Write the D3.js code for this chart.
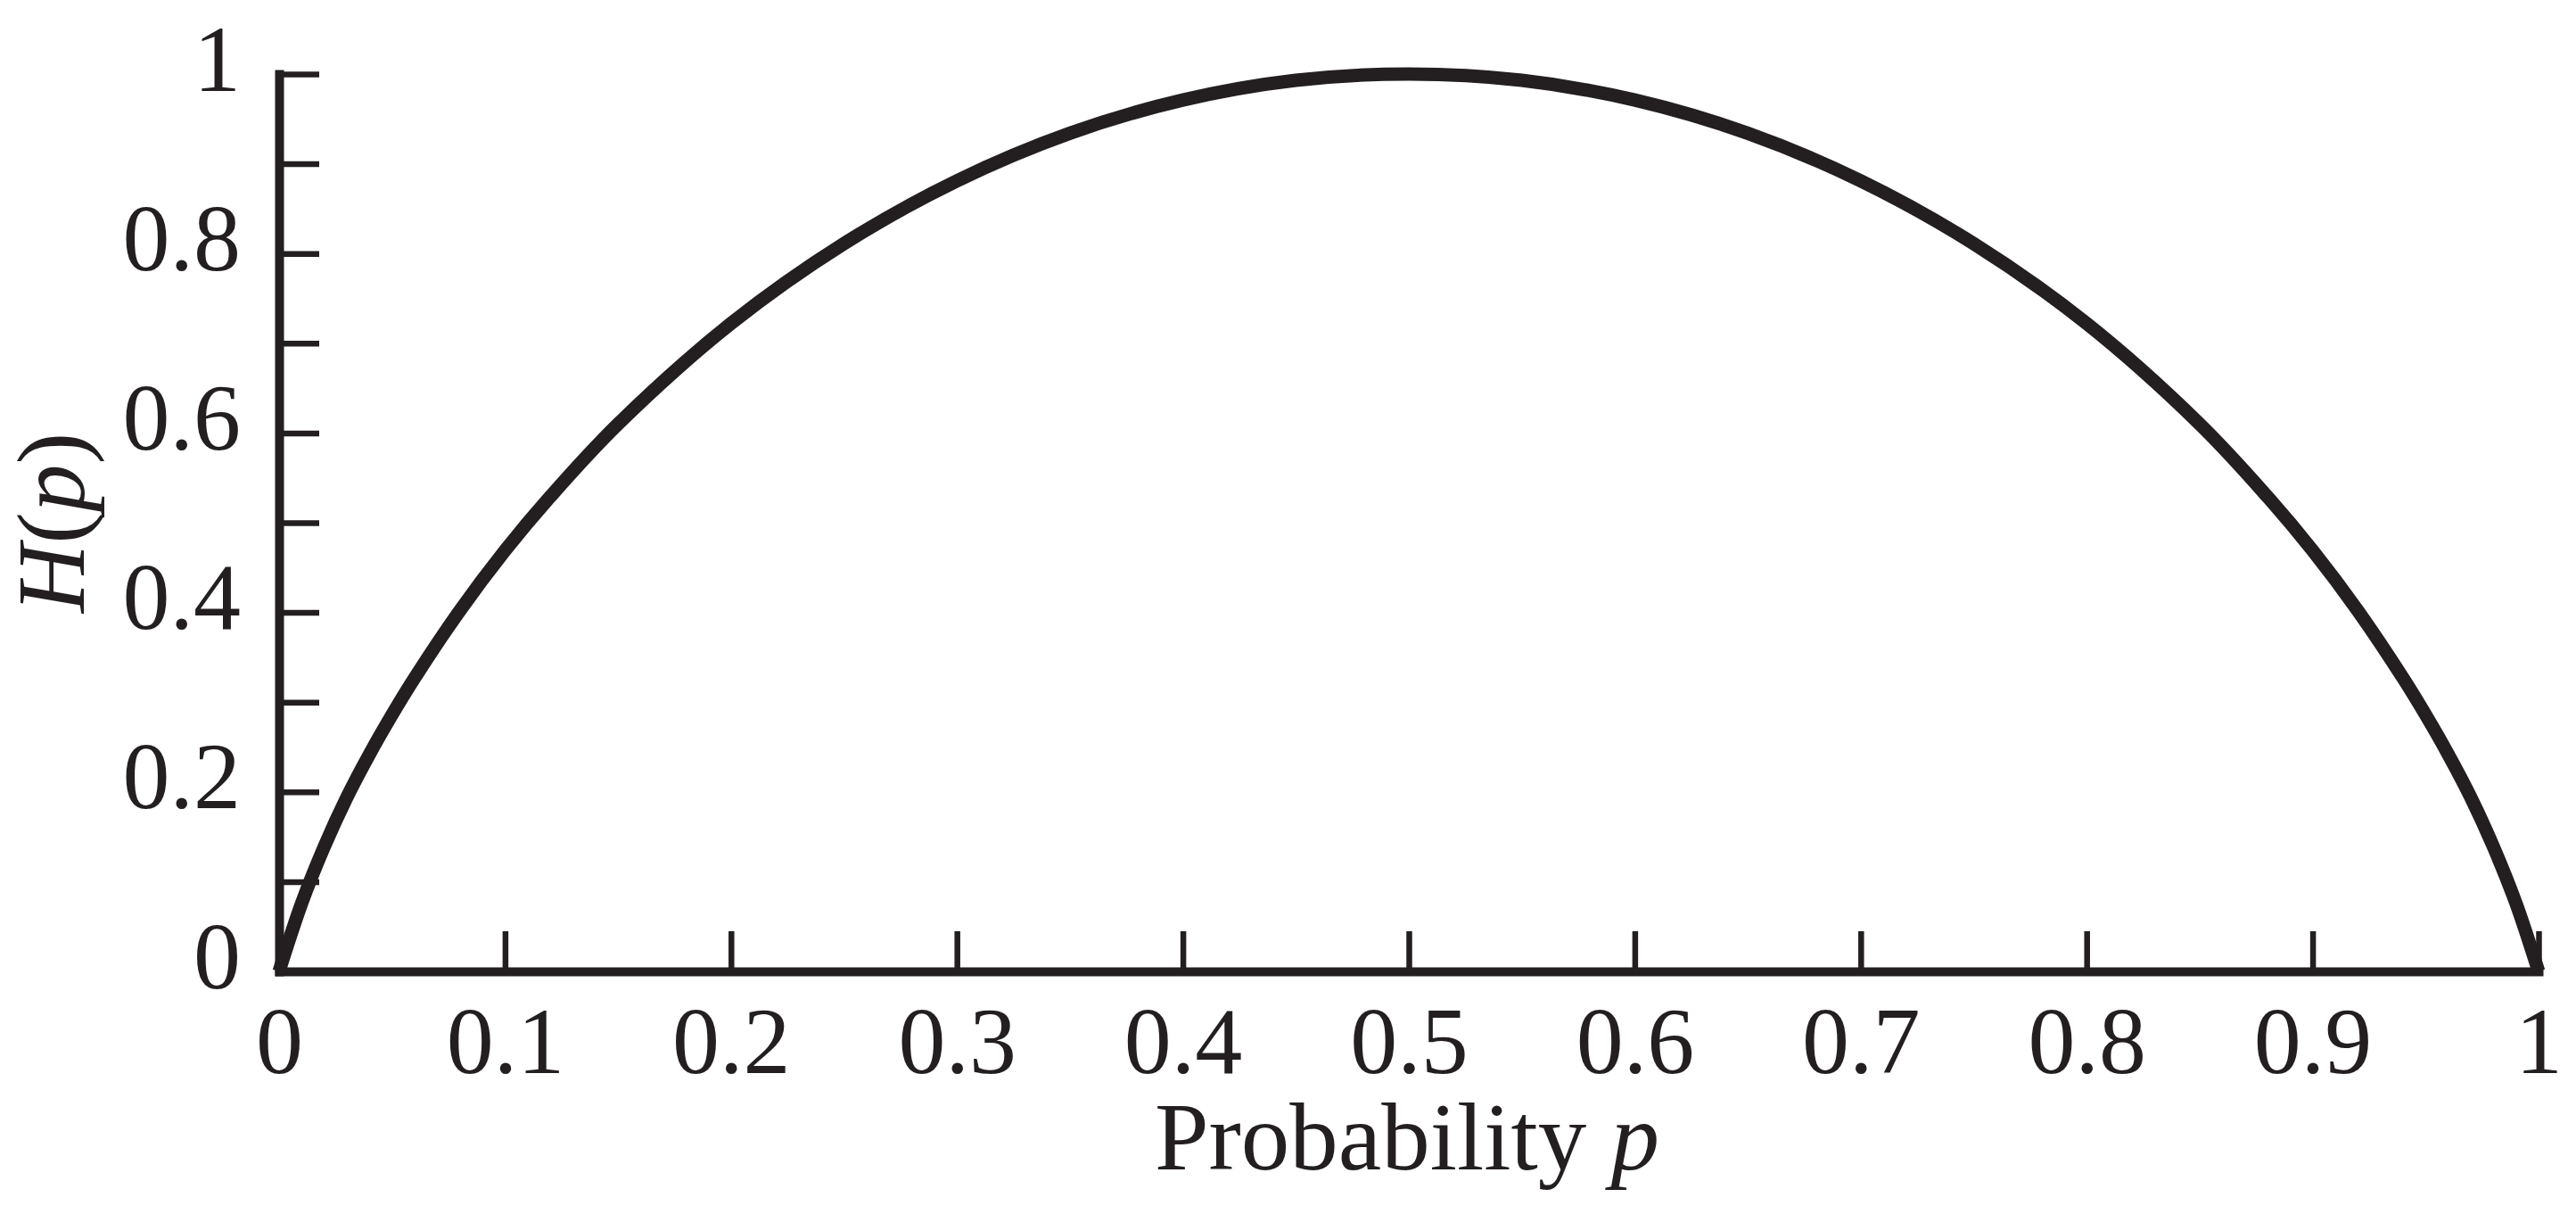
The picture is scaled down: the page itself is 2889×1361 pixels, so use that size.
<!DOCTYPE html>
<html>
<head>
<meta charset="utf-8">
<script src="https://cdn.jsdelivr.net/npm/d3@7"></script>
<style>
  html, body { margin: 0; padding: 0; background: #ffffff; }
  svg { display: block; }
</style>
</head>
<body>
<script>
// ---- data ----
const pValues = [0, 0.01, 0.02, 0.03, 0.04, 0.05, 0.06, 0.08, 0.1, 0.12, 0.15, 0.2, 0.25, 0.3, 0.35, 0.4, 0.45, 0.5,
                 0.55, 0.6, 0.65, 0.7, 0.75, 0.8, 0.85, 0.88, 0.9, 0.92, 0.94, 0.95, 0.96, 0.97, 0.98, 0.99, 1];
const hValues = [0, 0.076, 0.139, 0.194, 0.242, 0.286, 0.327, 0.402, 0.469, 0.529, 0.61, 0.722, 0.811, 0.881, 0.934, 0.971, 0.993, 1.0,
                 0.993, 0.971, 0.934, 0.881, 0.811, 0.722, 0.61, 0.529, 0.469, 0.402, 0.327, 0.286, 0.242, 0.194, 0.139, 0.076, 0];
const xTicks = [0, 0.1, 0.2, 0.3, 0.4, 0.5, 0.6, 0.7, 0.8, 0.9, 1];
const xTickLabels = ["0", "0.1", "0.2", "0.3", "0.4", "0.5", "0.6", "0.7", "0.8", "0.9", "1"];
const yTicks = [0, 0.1, 0.2, 0.3, 0.4, 0.5, 0.6, 0.7, 0.8, 0.9, 1];
const yTickLabels = ["0", "", "0.2", "", "0.4", "", "0.6", "", "0.8", "", "1"];
const xAxisTitle = "Probability";
const xAxisVar = "p";

// ---- layout ----
const W = 2889, H = 1361;
const ink = "#231f20";
const font = "'Liberation Serif', 'Times New Roman', serif";
const fs = 106;

const svg = d3.select("body").append("svg")
  .attr("width", W).attr("height", H)
  .style("background", "#ffffff");

const x = d3.scaleLinear().domain([0, 1]).range([313, 2847]);
const y = d3.scaleLinear().domain([0, 1]).range([1089, 83]);

// x axis
const xAxis = d3.axisBottom(x)
  .tickValues(xTicks)
  .tickFormat((d, i) => xTickLabels[i])
  .tickSizeInner(-45)
  .tickSizeOuter(0)
  .tickPadding(39);

const gx = svg.append("g")
  .attr("transform", `translate(0,${y(0)})`)
  .call(xAxis);

// y axis
const yAxis = d3.axisLeft(y)
  .tickValues(yTicks)
  .tickFormat((d, i) => yTickLabels[i])
  .tickSizeInner(-45)
  .tickSizeOuter(0)
  .tickPadding(43);

const gy = svg.append("g")
  .attr("transform", `translate(${x(0)},0)`)
  .call(yAxis);

[gx, gy].forEach(g => {
  g.select(".domain")
    .attr("stroke", ink)
    .attr("stroke-width", 10)
    .attr("stroke-linecap", "square");
  g.selectAll(".tick line")
    .attr("stroke", ink)
    .attr("stroke-width", 6.5);
  g.selectAll(".tick text")
    .attr("fill", ink)
    .style("font-family", font)
    .style("font-size", fs + "px");
});
gy.selectAll(".tick text").attr("dy", "0.17em");

// curve
const pts = pValues.map((p, i) => [p, hValues[i]]);
const line = d3.line()
  .x(d => x(d[0]))
  .y(d => y(d[1]))
  .curve(d3.curveCatmullRom.alpha(0.5));

svg.append("path")
  .datum(pts)
  .attr("d", line)
  .attr("fill", "none")
  .attr("stroke", ink)
  .attr("stroke-width", 15)
  .attr("stroke-linejoin", "round");

// x axis title
const xt = svg.append("text")
  .attr("x", (x(0) + x(1)) / 2 - 2)
  .attr("y", 1311)
  .attr("text-anchor", "middle")
  .attr("fill", ink)
  .style("font-family", font)
  .style("font-size", "109px");
xt.append("tspan").text(xAxisTitle + " ");
xt.append("tspan").style("font-style", "italic").text(xAxisVar);

// y axis title H(p)
const yt = svg.append("text")
  .attr("transform", `translate(94,${(y(0) + y(1)) / 2}) rotate(-90)`)
  .attr("text-anchor", "middle")
  .attr("fill", ink)
  .style("font-family", font)
  .style("font-size", "107px");
yt.append("tspan").style("font-style", "italic").text("H");
yt.append("tspan").text("(");
yt.append("tspan").style("font-style", "italic").text("p");
yt.append("tspan").text(")");
</script>
</body>
</html>
